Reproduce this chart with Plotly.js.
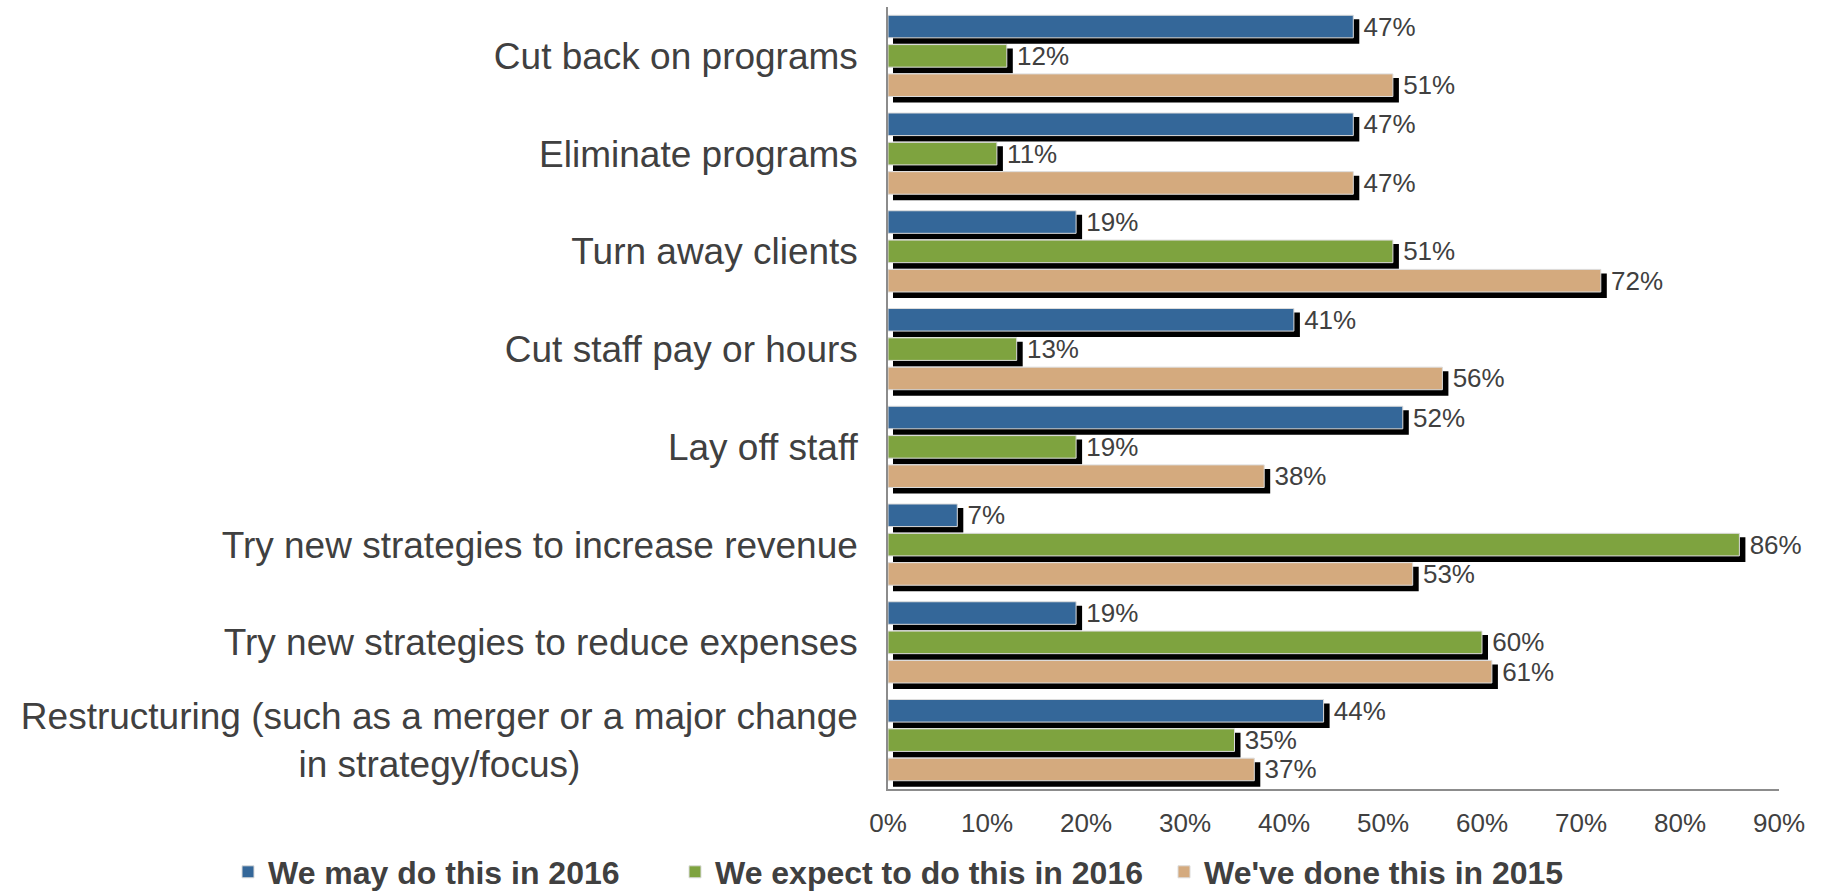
<!DOCTYPE html>
<html>
<head>
<meta charset="utf-8">
<script src="https://cdn.plot.ly/plotly-3.0.1.min.js"></script>
<style>
  html, body { margin: 0; padding: 0; background: #ffffff; }
  #chart { width: 1822px; height: 895px; }
</style>
</head>
<body>
<div id="chart"></div>
<script>
// ---- Data ----
const categories = [
  "Cut back on programs",
  "Eliminate programs",
  "Turn away clients",
  "Cut staff pay or hours",
  "Lay off staff",
  "Try new strategies to increase revenue",
  "Try new strategies to reduce expenses",
  "Restructuring (such as a merger or a major change<br>in strategy/focus)" + "\u00a0".repeat(27)
];
const seriesNames = ["We may do this in 2016", "We expect to do this in 2016", "We've done this in 2015"];
const mayDo2016    = [47, 47, 19, 41, 52, 7, 19, 44];
const expectDo2016 = [12, 11, 51, 13, 19, 86, 60, 35];
const done2015     = [51, 47, 72, 56, 38, 53, 61, 37];
const xTickRange = [0, 90];

const seriesValues = [mayDo2016, expectDo2016, done2015];
const seriesColors = ["#346799", "#7ea33f", "#d4aa7e"];
const legendIds = ["legend", "legend2", "legend3"];

const FONT = "Liberation Sans, Arial, Helvetica, sans-serif";
const TEXT_COLOR = "#404040";

// Plot area geometry (pixels)
const W = 1822, H = 895;
const L = 888, R = 38, T = 7, B = 101;
const plotW = W - L - R;   // 896
const plotH = H - T - B;   // 787
const SH = 5;              // shadow offset in px

const traces = [];
// Shadow traces (drawn first, in subplot xy, shifted right & down)
seriesValues.forEach((vals, i) => {
  traces.push({
    type: "bar",
    orientation: "h",
    y: categories,
    x: vals,
    xaxis: "x",
    yaxis: "y",
    marker: { color: "#000000", line: { color: "#000000", width: 2 } },
    showlegend: false,
    hoverinfo: "skip",
    name: seriesNames[i] + " shadow"
  });
});
// Coloured traces (subplot x2y2)
seriesValues.forEach((vals, i) => {
  traces.push({
    type: "bar",
    orientation: "h",
    y: categories,
    x: vals,
    xaxis: "x2",
    yaxis: "y2",
    name: seriesNames[i],
    legend: legendIds[i],
    marker: { color: seriesColors[i], line: { color: "#dcdcdc", width: 1 } },
    texttemplate: "\u00a0%{x}",
    textposition: "outside",
    textfont: { family: FONT, size: 26, color: TEXT_COLOR },
    constraintext: "none",
    cliponaxis: false,
    hoverinfo: "x+y"
  });
});

const catAxisCommon = {
  type: "category",
  categoryorder: "array",
  categoryarray: categories,
  autorange: "reversed",
  showgrid: false,
  zeroline: false,
  automargin: false
};
const valAxisCommon = {
  range: xTickRange,
  dtick: 10,
  ticksuffix: "%",
  showgrid: false,
  zeroline: false,
  automargin: false
};

const legendCommon = {
  orientation: "h",
  yanchor: "middle",
  xanchor: "left",
  y: (T + plotH - 872) / plotH,
  bgcolor: "rgba(0,0,0,0)",
  borderwidth: 0,
  font: { family: FONT, size: 32, color: TEXT_COLOR, weight: "bold" },
  itemwidth: 30
};
function legendX(textStartPx) { return (textStartPx - 40 - L) / plotW; }

const layout = {
  width: W,
  height: H,
  margin: { l: L, r: R, t: T, b: B, pad: 0, autoexpand: false },
  paper_bgcolor: "#ffffff",
  plot_bgcolor: "rgba(0,0,0,0)",
  font: { family: FONT, color: TEXT_COLOR },
  barmode: "group",
  bargap: 0.1,
  bargroupgap: 0.23,
  // shadow axes
  xaxis: Object.assign({}, valAxisCommon, {
    domain: [SH / plotW, 1],
    anchor: "y",
    visible: false
  }),
  yaxis: Object.assign({}, catAxisCommon, {
    domain: [0, 1 - SH / plotH],
    anchor: "x",
    visible: false
  }),
  // main axes
  xaxis2: Object.assign({}, valAxisCommon, {
    domain: [0, 1 - SH / plotW],
    anchor: "y2",
    showline: true,
    linecolor: "#8c8c8c",
    linewidth: 1.5,
    ticks: "",
    ticklabelstandoff: 10,
    tickfont: { family: FONT, size: 26, color: TEXT_COLOR }
  }),
  yaxis2: Object.assign({}, catAxisCommon, {
    domain: [SH / plotH, 1],
    anchor: "x2",
    showline: true,
    linecolor: "#8c8c8c",
    linewidth: 1.5,
    ticks: "",
    ticklabelstandoff: 21,
    tickfont: { family: FONT, size: 37, color: TEXT_COLOR }
  }),
  legend: Object.assign({}, legendCommon, { x: legendX(268) }),
  legend2: Object.assign({}, legendCommon, { x: legendX(715) }),
  legend3: Object.assign({}, legendCommon, { x: legendX(1204) }),
  showlegend: true
};

Plotly.newPlot("chart", traces, layout, { displayModeBar: false, responsive: false });
</script>
</body>
</html>
